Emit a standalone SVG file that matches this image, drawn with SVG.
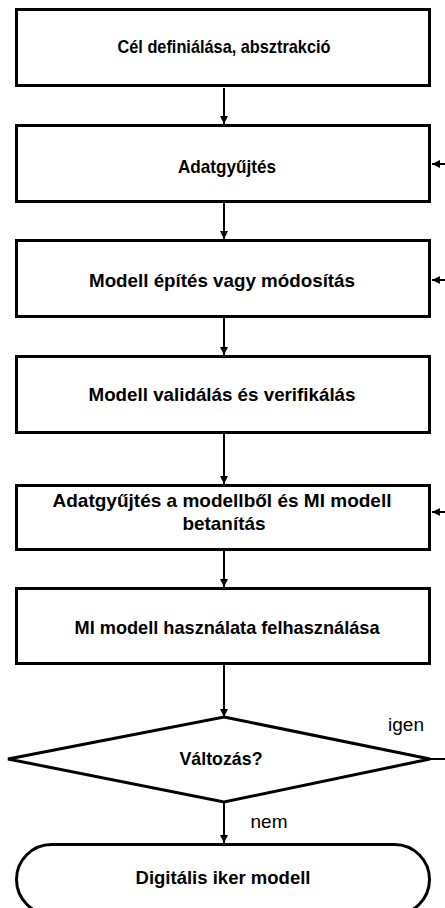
<svg xmlns="http://www.w3.org/2000/svg" width="445" height="908" viewBox="0 0 445 908">
  <style>
    .box { fill: #ffffff; stroke: #000000; stroke-width: 3; }
    .lbl { font-family: "Liberation Sans", Arial, sans-serif; font-weight: bold; font-size: 19px; fill: #000000; text-anchor: middle; }
    .tag { font-family: "Liberation Sans", Arial, sans-serif; font-size: 19px; fill: #000000; text-anchor: middle; }
    .edge { fill: none; stroke: #000000; stroke-width: 2; }
  </style>
  <defs>
    <marker id="arrow" markerUnits="userSpaceOnUse" markerWidth="8" markerHeight="8" refX="8" refY="4" orient="auto">
      <path d="M0,0 L8,4 L0,8 z" fill="#000000"/>
    </marker>
  </defs>

  <rect width="445" height="908" fill="#ffffff"/>

  <!-- connectors -->
  <g id="connectors">
    <line class="edge" x1="224" y1="88" x2="224" y2="124" marker-end="url(#arrow)"/>
    <line class="edge" x1="224" y1="203" x2="224" y2="239" marker-end="url(#arrow)"/>
    <line class="edge" x1="224" y1="318" x2="224" y2="355" marker-end="url(#arrow)"/>
    <line class="edge" x1="224" y1="434" x2="224" y2="484" marker-end="url(#arrow)"/>
    <line class="edge" x1="224" y1="551" x2="224" y2="587" marker-end="url(#arrow)"/>
    <line class="edge" x1="224" y1="665" x2="224" y2="717" marker-end="url(#arrow)"/>
    <line class="edge" x1="224" y1="802" x2="224" y2="843" marker-end="url(#arrow)"/>
    <!-- feedback path from the decision back to earlier steps -->
    <line class="edge" x1="430" y1="759" x2="445" y2="759"/>
    <line class="edge" x1="445" y1="164" x2="432" y2="164" marker-end="url(#arrow)"/>
    <line class="edge" x1="445" y1="280" x2="432" y2="280" marker-end="url(#arrow)"/>
    <line class="edge" x1="445" y1="512" x2="432" y2="512" marker-end="url(#arrow)"/>
    <text class="tag" x="406" y="731">igen</text>
    <text class="tag" x="269" y="828">nem</text>
  </g>

  <g id="goal">
    <rect class="box" x="16.5" y="9.5" width="413" height="76"/>
    <text class="lbl" x="224" y="53" textLength="213" lengthAdjust="spacingAndGlyphs">Cél definiálása, absztrakció</text>
  </g>

  <g id="data-collection">
    <rect class="box" x="16.5" y="125.5" width="413" height="76"/>
    <text class="lbl" x="227" y="173" textLength="98" lengthAdjust="spacingAndGlyphs">Adatgyűjtés</text>
  </g>

  <g id="model-build">
    <rect class="box" x="16.5" y="240.5" width="413" height="76"/>
    <text class="lbl" x="222" y="287" textLength="266" lengthAdjust="spacingAndGlyphs">Modell építés vagy módosítás</text>
  </g>

  <g id="model-validation">
    <rect class="box" x="16.5" y="356.5" width="413" height="76"/>
    <text class="lbl" x="222" y="401" textLength="267" lengthAdjust="spacingAndGlyphs">Modell validálás és verifikálás</text>
  </g>

  <g id="ai-training">
    <rect class="box" x="16.5" y="485.5" width="413" height="64"/>
    <text class="lbl" x="222" y="507" textLength="339" lengthAdjust="spacingAndGlyphs">Adatgyűjtés a modellből és MI modell</text>
    <text class="lbl" x="224" y="530" textLength="83" lengthAdjust="spacingAndGlyphs">betanítás</text>
  </g>

  <g id="ai-usage">
    <rect class="box" x="16.5" y="588.5" width="413" height="75"/>
    <text class="lbl" x="227" y="634" textLength="305" lengthAdjust="spacingAndGlyphs">MI modell használata felhasználása</text>
  </g>

  <g id="change-decision">
    <polygon class="box" points="224,717 430,759 224,802 8,759"/>
    <text class="lbl" x="221" y="765" textLength="83" lengthAdjust="spacingAndGlyphs">Változás?</text>
  </g>

  <g id="digital-twin">
    <rect class="box" x="16.5" y="844.5" width="413" height="70" rx="35" ry="35"/>
    <text class="lbl" x="223" y="884" textLength="175" lengthAdjust="spacingAndGlyphs">Digitális iker modell</text>
  </g>
</svg>
